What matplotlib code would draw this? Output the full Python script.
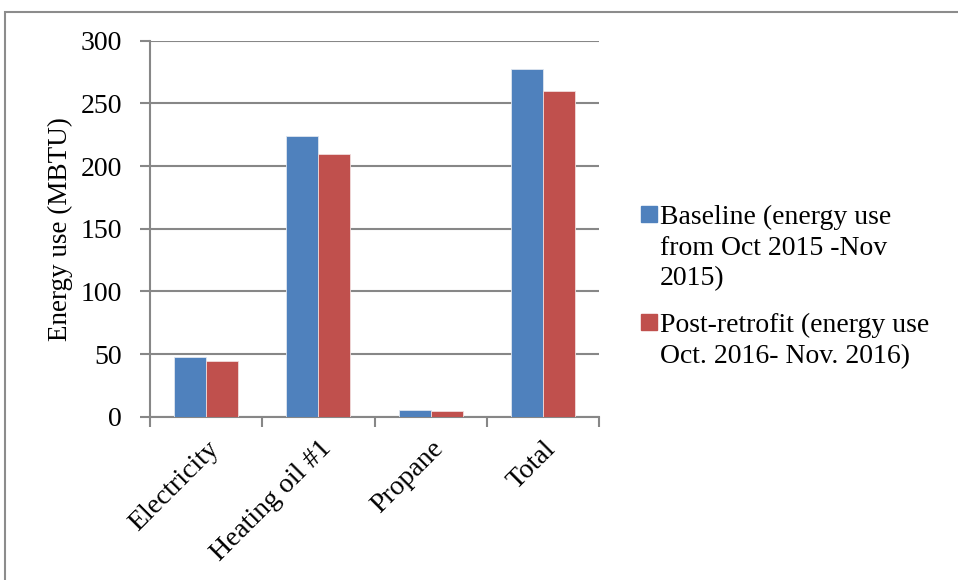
import numpy as np
import matplotlib.pyplot as plt
from matplotlib.patches import Rectangle

plt.rcParams['font.family'] = ['Liberation Serif', 'DejaVu Serif']

# Data (MBTU)
categories = ['Electricity', 'Heating oil #1', 'Propane', 'Total']
baseline = [47.5, 224, 5.3, 277.5]
post_retrofit = [44.8, 210, 4.5, 260]
labels = ['Baseline (energy use\nfrom Oct 2015 -Nov\n2015)',
          'Post-retrofit (energy use\nOct. 2016- Nov. 2016)']

blue = '#4F81BD'
red = '#C0504D'
grey = '#878787'
fs = 20

W, H = 958, 580
fig = plt.figure(figsize=(W / 100, H / 100), dpi=100)
ax = fig.add_axes([150 / W, 1 - 416.7 / H, 449 / W, 376 / H])

x = np.arange(len(categories))
w = 0.285
ax.bar(x - w / 2, baseline, w, color=blue, edgecolor='#dfe6f0', linewidth=0.6, zorder=3)
ax.bar(x + w / 2, post_retrofit, w, color=red, edgecolor='#f0dcdc', linewidth=0.6, zorder=3)

ax.set_xlim(-0.5, len(categories) - 0.5)
ax.set_ylim(0, 300)
ax.set_yticks(np.arange(0, 301, 50))
ax.yaxis.grid(True, color=grey, linewidth=1.5, zorder=0)
ax.set_axisbelow(True)

# category boundaries as ticks, labels centred on categories
ax.set_xticks(np.arange(-0.5, len(categories), 1))
ax.set_xticklabels([])
ax.set_xticks(x, minor=True)
ax.set_xticklabels(categories, minor=True, rotation=45, ha='right',
                   rotation_mode='anchor', fontsize=fs)
ax.tick_params(axis='x', which='minor', length=0, pad=14)
ax.tick_params(axis='x', which='major', length=7, width=1.5, color=grey)
ax.tick_params(axis='y', length=7, width=1.5, color=grey, labelsize=fs, pad=13)

for s in ['top', 'right']:
    ax.spines[s].set_visible(False)
for s in ['left', 'bottom']:
    ax.spines[s].set_color(grey)
    ax.spines[s].set_linewidth(1.5)

ax.set_ylabel('Energy use (MBTU)', fontsize=19.5)
ax.yaxis.set_label_coords(-0.172, 0.5)

# legend: square key beside the first line of each wrapped label
legend_tops = [205, 313]
for color, text, top in zip([blue, red], labels, legend_tops):
    fig.patches.append(Rectangle((641 / W, 1 - (top + 17) / H), 16 / W, 16 / H,
                                 transform=fig.transFigure, color=color))
    fig.text(660 / W, 1 - top / H, text, fontsize=fs, va='top', ha='left',
             linespacing=1.3)

# outer chart border (cropped on right and bottom)
fig.patches.append(Rectangle((5 / W, -0.1), 1.2, 1.1 - 11.5 / H, transform=fig.transFigure,
                             fill=False, edgecolor='#8c8c8c', linewidth=1.5))

fig.savefig('out.png', dpi=100)
